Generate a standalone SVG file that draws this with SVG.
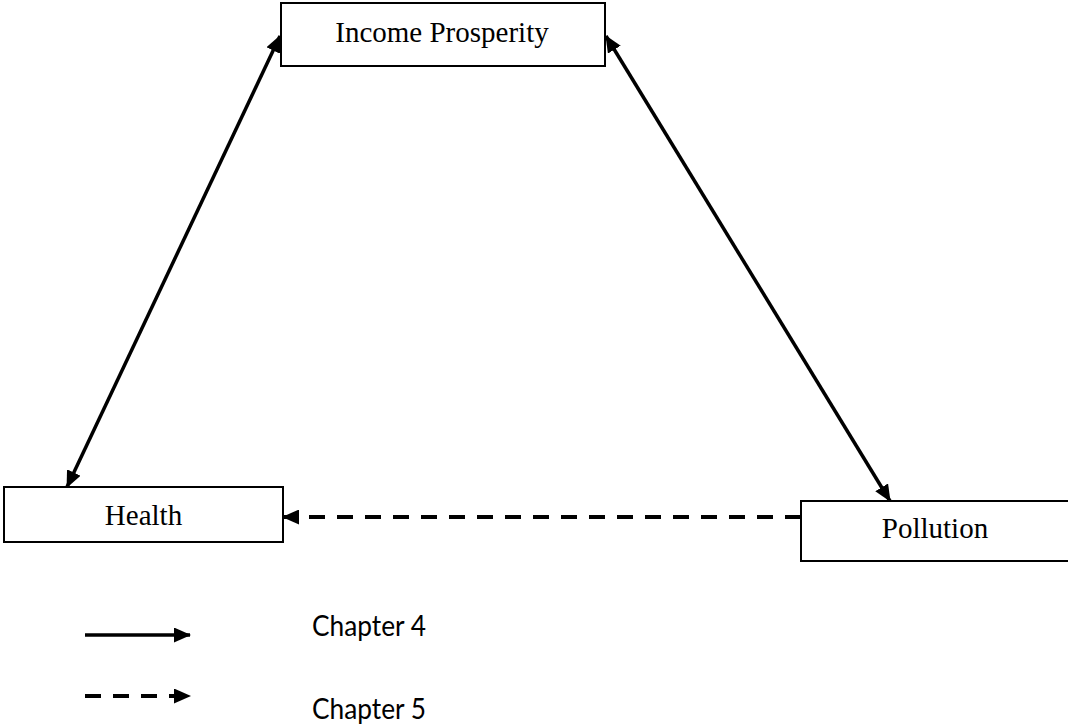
<svg xmlns="http://www.w3.org/2000/svg" width="1068" height="724" viewBox="0 0 1068 724">
<defs>
<style>
.box{fill:#fff;stroke:#000;stroke-width:2}
.lbl{font-family:"Liberation Serif","Times New Roman",serif;font-size:29px;fill:#000;text-anchor:middle}
.leg{font-family:Lato,"Liberation Sans",sans-serif;font-size:28px;fill:#000}
.con{stroke:#000;stroke-width:3.5;fill:none}
.dash{stroke-dasharray:16 12;stroke-width:4}
</style>
<marker id="ah" markerUnits="userSpaceOnUse" markerWidth="17" markerHeight="15" viewBox="0 0 17 15" refX="16" refY="7.5" orient="auto-start-reverse">
<path d="M0,0 L17,7.5 L0,15 z" fill="#000"/>
</marker>
</defs>
<rect width="1068" height="724" fill="#fff"/>
<g id="connectors">
<line class="con" x1="67" y1="487" x2="280" y2="36" marker-start="url(#ah)" marker-end="url(#ah)"/>
<line class="con" x1="606" y1="36" x2="890" y2="501" marker-start="url(#ah)" marker-end="url(#ah)"/>
<line class="con dash" x1="801" y1="517" x2="283" y2="517" marker-end="url(#ah)"/>
</g>
<g id="node-income">
<rect class="box" x="281" y="3" width="324" height="63"/>
<text class="lbl" x="442" y="42">Income Prosperity</text>
</g>
<g id="node-health">
<rect class="box" x="4" y="487" width="279" height="55"/>
<text class="lbl" x="143.5" y="525">Health</text>
</g>
<g id="node-pollution">
<rect class="box" x="801" y="501" width="275" height="60"/>
<text class="lbl" x="935" y="538">Pollution</text>
</g>
<g id="legend">
<line class="con" x1="85" y1="635" x2="190" y2="635" marker-end="url(#ah)"/>
<line class="con dash" x1="85" y1="696" x2="190" y2="696" stroke-dasharray="15 13" marker-end="url(#ah)"/>
<text class="leg" x="312" y="636" textLength="114" lengthAdjust="spacingAndGlyphs">Chapter 4</text>
<text class="leg" x="312" y="719" textLength="114" lengthAdjust="spacingAndGlyphs">Chapter 5</text>
</g>
</svg>
